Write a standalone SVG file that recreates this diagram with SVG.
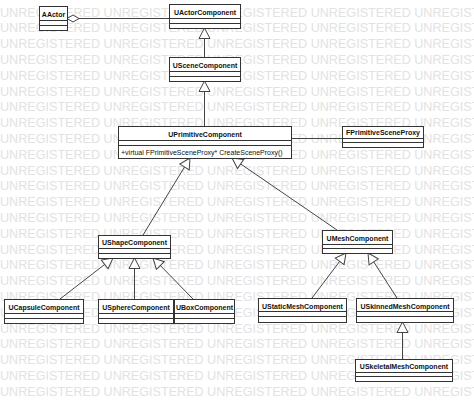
<svg xmlns="http://www.w3.org/2000/svg" width="474" height="403" viewBox="0 0 474 403">
<style>
.wm{font-family:"Liberation Sans",Arial,sans-serif;font-size:12.6px;fill:#e2e2e2;}
.box{fill:#fff;stroke:#333;stroke-width:1;}
.sep{stroke:#333;stroke-width:1;}
.nm{font-family:"Liberation Sans",Arial,sans-serif;font-size:7px;font-weight:bold;fill:#111;text-anchor:middle;}
.op{font-family:"Liberation Sans",Arial,sans-serif;font-size:7px;fill:#111;}
.ln{fill:none;stroke:#444;stroke-width:1;}
.gen{marker-end:url(#tri);}
.agg{marker-end:url(#dia);}
</style>
<defs>
<marker id="tri" markerUnits="userSpaceOnUse" markerWidth="14" markerHeight="14" viewBox="-12 -7 14 14" refX="0" refY="0" orient="auto">
<path d="M0,0 L-10.5,-5.5 L-10.5,5.5 Z" fill="#fff" stroke="#444" stroke-width="1"/>
</marker>
<marker id="dia" markerUnits="userSpaceOnUse" markerWidth="16" markerHeight="10" viewBox="-14 -5 16 10" refX="0" refY="0" orient="auto">
<path d="M0,0 L-6,-3.5 L-12,0 L-6,3.5 Z" fill="#fff" stroke="#444" stroke-width="1"/>
</marker>
</defs>
<rect width="474" height="403" fill="#fff"/>
<g id="watermark">
<text class="wm" x="0" y="16.5" word-spacing="0">UNREGISTERED UNREGISTERED UNREGISTERED UNREGISTERED UNREGISTERED</text>
<text class="wm" x="0" y="32.3">UNREGISTERED UNREGISTERED UNREGISTERED UNREGISTERED UNREGISTERED</text>
<text class="wm" x="0" y="48.1">UNREGISTERED UNREGISTERED UNREGISTERED UNREGISTERED UNREGISTERED</text>
<text class="wm" x="0" y="63.9">UNREGISTERED UNREGISTERED UNREGISTERED UNREGISTERED UNREGISTERED</text>
<text class="wm" x="0" y="79.7">UNREGISTERED UNREGISTERED UNREGISTERED UNREGISTERED UNREGISTERED</text>
<text class="wm" x="0" y="95.5">UNREGISTERED UNREGISTERED UNREGISTERED UNREGISTERED UNREGISTERED</text>
<text class="wm" x="0" y="111.3">UNREGISTERED UNREGISTERED UNREGISTERED UNREGISTERED UNREGISTERED</text>
<text class="wm" x="0" y="127.1">UNREGISTERED UNREGISTERED UNREGISTERED UNREGISTERED UNREGISTERED</text>
<text class="wm" x="0" y="142.9">UNREGISTERED UNREGISTERED UNREGISTERED UNREGISTERED UNREGISTERED</text>
<text class="wm" x="0" y="158.7">UNREGISTERED UNREGISTERED UNREGISTERED UNREGISTERED UNREGISTERED</text>
<text class="wm" x="0" y="174.5">UNREGISTERED UNREGISTERED UNREGISTERED UNREGISTERED UNREGISTERED</text>
<text class="wm" x="0" y="190.3">UNREGISTERED UNREGISTERED UNREGISTERED UNREGISTERED UNREGISTERED</text>
<text class="wm" x="0" y="206.1">UNREGISTERED UNREGISTERED UNREGISTERED UNREGISTERED UNREGISTERED</text>
<text class="wm" x="0" y="221.9">UNREGISTERED UNREGISTERED UNREGISTERED UNREGISTERED UNREGISTERED</text>
<text class="wm" x="0" y="237.7">UNREGISTERED UNREGISTERED UNREGISTERED UNREGISTERED UNREGISTERED</text>
<text class="wm" x="0" y="253.5">UNREGISTERED UNREGISTERED UNREGISTERED UNREGISTERED UNREGISTERED</text>
<text class="wm" x="0" y="269.3">UNREGISTERED UNREGISTERED UNREGISTERED UNREGISTERED UNREGISTERED</text>
<text class="wm" x="0" y="285.1">UNREGISTERED UNREGISTERED UNREGISTERED UNREGISTERED UNREGISTERED</text>
<text class="wm" x="0" y="300.9">UNREGISTERED UNREGISTERED UNREGISTERED UNREGISTERED UNREGISTERED</text>
<text class="wm" x="0" y="316.7">UNREGISTERED UNREGISTERED UNREGISTERED UNREGISTERED UNREGISTERED</text>
<text class="wm" x="0" y="332.5">UNREGISTERED UNREGISTERED UNREGISTERED UNREGISTERED UNREGISTERED</text>
<text class="wm" x="0" y="348.3">UNREGISTERED UNREGISTERED UNREGISTERED UNREGISTERED UNREGISTERED</text>
<text class="wm" x="0" y="364.1">UNREGISTERED UNREGISTERED UNREGISTERED UNREGISTERED UNREGISTERED</text>
<text class="wm" x="0" y="379.9">UNREGISTERED UNREGISTERED UNREGISTERED UNREGISTERED UNREGISTERED</text>
<text class="wm" x="0" y="395.7">UNREGISTERED UNREGISTERED UNREGISTERED UNREGISTERED UNREGISTERED</text>
</g>
<g id="connectors">
<path class="ln agg" d="M169,18.5 L67,18.5"/>
<path class="ln gen" d="M204.5,57 L204.5,28"/>
<path class="ln gen" d="M204.5,126 L204.5,81"/>
<path class="ln" d="M291,138.5 L342,138.5"/>
<path class="ln gen" d="M143,235 L190,158"/>
<path class="ln gen" d="M337,230 L232,158"/>
<path class="ln gen" d="M60,299 L113,258"/>
<path class="ln gen" d="M134.5,299 L134.5,258"/>
<path class="ln gen" d="M193,299 L153,258"/>
<path class="ln gen" d="M312,298 L346,253"/>
<path class="ln gen" d="M397,298 L368,253"/>
<path class="ln gen" d="M402.5,359 L402.5,322"/>
</g>
<g id="AActor">
<rect class="box" x="39.5" y="6.5" width="28" height="24"/>
<path class="sep" d="M39.5,20.5 H67.5 M39.5,25.5 H67.5"/>
<text class="nm" x="53.5" y="16.5">AActor</text>
</g>
<g id="UActorComponent">
<rect class="box" x="169.5" y="4.5" width="71" height="24"/>
<path class="sep" d="M169.5,18.5 H240.5 M169.5,23.5 H240.5"/>
<text class="nm" x="205" y="14.5">UActorComponent</text>
</g>
<g id="USceneComponent">
<rect class="box" x="169.5" y="57.5" width="71" height="24"/>
<path class="sep" d="M169.5,71.5 H240.5 M169.5,76.5 H240.5"/>
<text class="nm" x="205" y="67.5">USceneComponent</text>
</g>
<g id="UPrimitiveComponent">
<rect class="box" x="118.5" y="126.5" width="173" height="32"/>
<path class="sep" d="M118.5,140.5 H291.5 M118.5,145.5 H291.5"/>
<text class="nm" x="205" y="136.5">UPrimitiveComponent</text>
<text class="op" x="121" y="154.5">+virtual FPrimitiveSceneProxy* CreateSceneProxy()</text>
</g>
<g id="FPrimitiveSceneProxy">
<rect class="box" x="342.5" y="126.5" width="81" height="21"/>
<path class="sep" d="M342.5,138.5 H423.5 M342.5,142.5 H423.5"/>
<text class="nm" x="383" y="135">FPrimitiveSceneProxy</text>
</g>
<g id="UShapeComponent">
<rect class="box" x="98.5" y="235.5" width="72" height="23"/>
<path class="sep" d="M98.5,248.5 H170.5 M98.5,253.5 H170.5"/>
<text class="nm" x="134.5" y="245">UShapeComponent</text>
</g>
<g id="UMeshComponent">
<rect class="box" x="322.5" y="230.5" width="70" height="23"/>
<path class="sep" d="M322.5,244.5 H392.5 M322.5,248.5 H392.5"/>
<text class="nm" x="357.5" y="240.5">UMeshComponent</text>
</g>
<g id="UCapsuleComponent">
<rect class="box" x="4.5" y="299.5" width="79" height="24"/>
<path class="sep" d="M4.5,313.5 H83.5 M4.5,318.5 H83.5"/>
<text class="nm" x="44" y="309.5">UCapsuleComponent</text>
</g>
<g id="USphereComponent">
<rect class="box" x="98.5" y="299.5" width="75" height="24"/>
<path class="sep" d="M98.5,313.5 H173.5 M98.5,318.5 H173.5"/>
<text class="nm" x="136" y="309.5">USphereComponent</text>
</g>
<g id="UBoxComponent">
<rect class="box" x="174.5" y="299.5" width="60" height="24"/>
<path class="sep" d="M174.5,313.5 H234.5 M174.5,318.5 H234.5"/>
<text class="nm" x="204.5" y="309.5">UBoxComponent</text>
</g>
<g id="UStaticMeshComponent">
<rect class="box" x="258.5" y="298.5" width="88" height="24"/>
<path class="sep" d="M258.5,311.5 H346.5 M258.5,316.5 H346.5"/>
<text class="nm" x="302.5" y="308.5">UStaticMeshComponent</text>
</g>
<g id="USkinnedMeshComponent">
<rect class="box" x="356.5" y="298.5" width="97" height="24"/>
<path class="sep" d="M356.5,311.5 H453.5 M356.5,316.5 H453.5"/>
<text class="nm" x="405" y="308.5">USkinnedMeshComponent</text>
</g>
<g id="USkeletalMeshComponent">
<rect class="box" x="355.5" y="359.5" width="97" height="22"/>
<path class="sep" d="M355.5,372.5 H452.5 M355.5,376.5 H452.5"/>
<text class="nm" x="404" y="369">USkeletalMeshComponent</text>
</g>
</svg>
